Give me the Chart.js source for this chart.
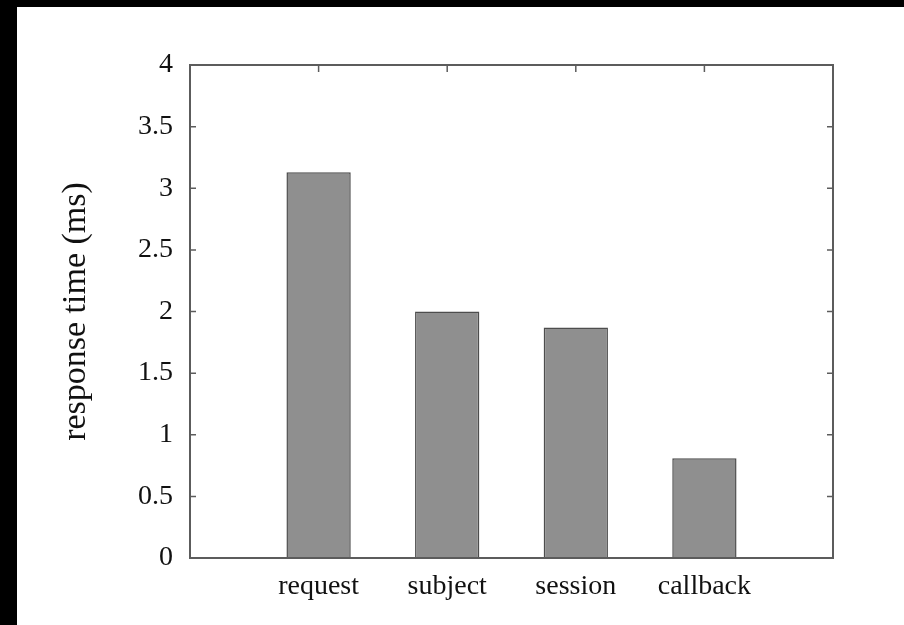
<!DOCTYPE html>
<html>
<head>
<meta charset="utf-8">
<script src="https://cdn.jsdelivr.net/npm/chart.js@4/dist/chart.umd.min.js"></script>
<style>
  html, body { margin: 0; padding: 0; background: #000; }
  #wrap { position: absolute; left: 17px; top: 7px; width: 887px; height: 618px; background: #fff; }
  canvas { display: block; }
</style>
</head>
<body>
<div id="wrap"><canvas id="c"></canvas></div>
<script>
// Mean response time per handler type (milliseconds)
const categories = ['request', 'subject', 'session', 'callback'];
const responseTimes = [3.13, 2.0, 1.87, 0.81];
const yTickLabels = ['0', '0.5', '1', '1.5', '2', '2.5', '3', '3.5', '4'];

const serif = "'Liberation Serif', 'Times New Roman', serif";
const frameColor = '#5c5c5c';

// Boxed frame with short inward tick marks on all four sides
const framePlugin = {
  id: 'frame',
  beforeDatasetsDraw(chart) {
    const { ctx, chartArea: a, scales: { x, y } } = chart;
    ctx.save();
    ctx.strokeStyle = frameColor;
    ctx.lineWidth = 1.5;
    ctx.beginPath();
    y.ticks.forEach(t => {
      const py = y.getPixelForValue(t.value);
      ctx.moveTo(a.left, py); ctx.lineTo(a.left + 6, py);
      ctx.moveTo(a.right, py); ctx.lineTo(a.right - 6, py);
    });
    x.ticks.forEach(t => {
      if (t.value <= 0 || t.value >= categories.length + 1) return;
      const px = x.getPixelForValue(t.value);
      ctx.moveTo(px, a.top); ctx.lineTo(px, a.top + 7);
      ctx.moveTo(px, a.bottom); ctx.lineTo(px, a.bottom - 7);
    });
    ctx.stroke();
    ctx.restore();
  },
  afterDatasetsDraw(chart) {
    const { ctx, chartArea: a } = chart;
    ctx.save();
    ctx.strokeStyle = frameColor;
    ctx.lineWidth = 2;
    ctx.strokeRect(a.left, a.top, a.right - a.left, a.bottom - a.top);
    ctx.restore();
  }
};

new Chart(document.getElementById('c'), {
  type: 'bar',
  data: {
    datasets: [{
      data: categories.map((c, i) => ({ x: i + 1, y: responseTimes[i] })),
      backgroundColor: '#8f8f8f',
      borderColor: '#4d4d4d',
      borderWidth: 1.5,
      barPercentage: 1,
      categoryPercentage: 0.5
    }]
  },
  options: {
    responsive: true,
    maintainAspectRatio: false,
    animation: false,
    events: [],
    layout: { padding: { left: 0, top: 58, right: 71, bottom: 0 } },
    plugins: { legend: { display: false }, tooltip: { enabled: false } },
    scales: {
      x: {
        type: 'linear',
        offset: false,
        min: 0,
        max: categories.length + 1,
        grid: { display: false, drawTicks: false, offset: false },
        border: { display: false },
        afterFit(scale) { scale.height = 67; },
        ticks: {
          stepSize: 1,
          padding: 12,
          color: '#111',
          font: { family: serif, size: 28 },
          callback: v => categories[v - 1] || ''
        }
      },
      y: {
        min: 0,
        max: 4,
        grid: { display: false, drawTicks: false },
        border: { display: false },
        afterFit(scale) { scale.width = 173; },
        ticks: {
          stepSize: 0.5,
          padding: 17,
          color: '#111',
          font: { family: serif, size: 28 },
          callback: (v, i) => yTickLabels[i]
        },
        title: {
          display: true,
          text: 'response time (ms)',
          color: '#111',
          font: { family: serif, size: 34 },
          padding: { top: 39, bottom: 0 }
        }
      }
    }
  },
  plugins: [framePlugin]
});
</script>
</body>
</html>
